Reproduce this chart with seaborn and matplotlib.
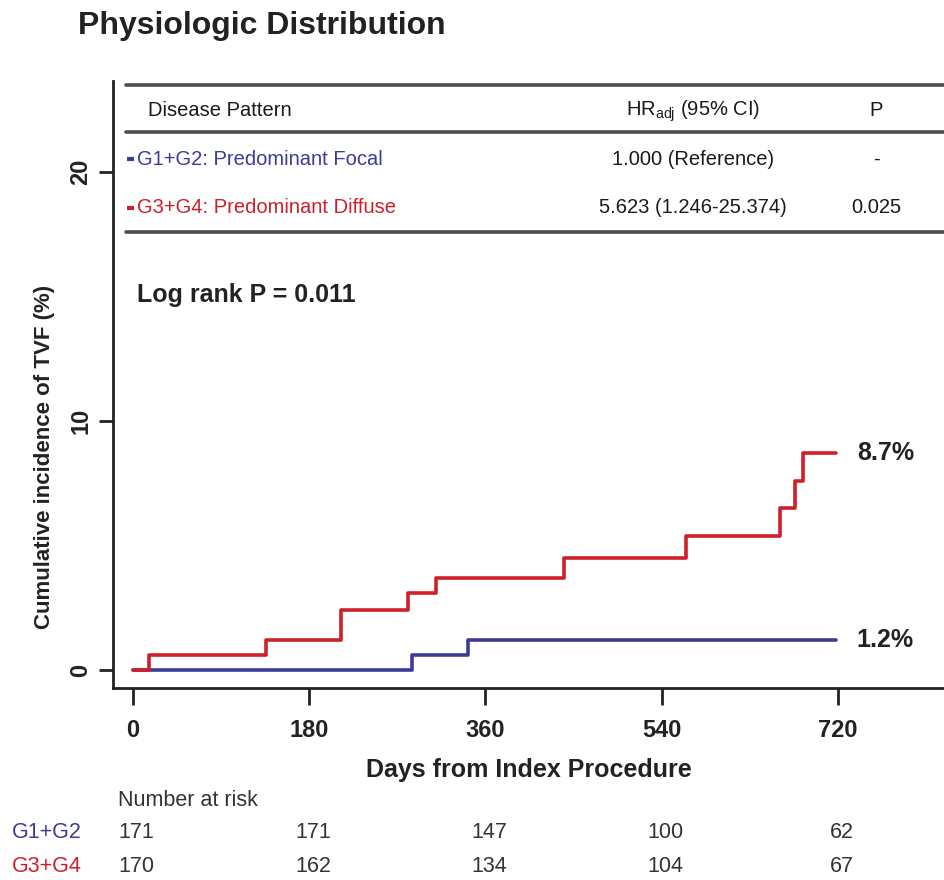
import numpy as np
import pandas as pd
import matplotlib
matplotlib.use("Agg")
import matplotlib.pyplot as plt
import matplotlib.transforms as mtransforms
import seaborn as sns

# Step curves (days, cumulative incidence %)
G12_DAYS = [0, 285, 342, 718]
G12_CUM = [0.0, 0.6, 1.2, 1.2]
G34_DAYS = [0, 17, 136, 213, 281, 310, 440, 565, 661, 676, 684, 718]
G34_CUM = [0.0, 0.6, 1.2, 2.4, 3.1, 3.7, 4.5, 5.4, 6.5, 7.6, 8.7, 8.7]

GROUPS = ["G1+G2", "G3+G4"]
GROUP_NAMES = ["G1+G2: Predominant Focal", "G3+G4: Predominant Diffuse"]
HR_TEXT = ["1.000 (Reference)", "5.623 (1.246-25.374)"]
P_TEXT = ["-", "0.025"]
END_LABELS = ["1.2%", "8.7%"]

RISK_DAYS = [0, 180, 360, 540, 720]
RISK_G12 = [171, 171, 147, 100, 62]
RISK_G34 = [170, 162, 134, 104, 67]

BLUE = "#3c3c98"
RED = "#cf1f28"
COLORS = {"G1+G2": BLUE, "G3+G4": RED}

df = pd.concat([
    pd.DataFrame({"Days": G12_DAYS, "Cum": G12_CUM, "Group": "G1+G2"}),
    pd.DataFrame({"Days": G34_DAYS, "Cum": G34_CUM, "Group": "G3+G4"}),
], ignore_index=True)

sns.set_style("white")
plt.rcParams["font.family"] = ["Liberation Sans", "DejaVu Sans"]
plt.rcParams["mathtext.fontset"] = "custom"
plt.rcParams["mathtext.rm"] = "Liberation Sans"

fig = plt.figure(figsize=(9.45, 8.8), dpi=100)
ax = fig.add_axes([0.1196, 0.2182, 0.8804, 0.6898])

for g in GROUPS:
    sns.lineplot(data=df[df["Group"] == g], x="Days", y="Cum", ax=ax,
                 color=COLORS[g], lw=2.6, drawstyle="steps-post",
                 estimator=None, legend=False, zorder=3)

ax.set_xlim(-20, 829)
ax.set_ylim(-0.72, 23.65)
ax.set_xticks(RISK_DAYS)
ax.set_yticks([0, 10, 20])
for lab in ax.get_yticklabels():
    lab.set_rotation(90)
    lab.set_va("center")
ax.tick_params(axis="both", direction="out", length=10, width=2, color="#222222",
               labelsize=17, labelcolor="#222222", bottom=True, left=True)
ax.tick_params(axis="x", length=12, pad=10)
ax.tick_params(axis="y", pad=5)
for lab in ax.get_xticklabels() + ax.get_yticklabels():
    lab.set_fontweight("bold")

sns.despine(ax=ax)
for s in ["left", "bottom"]:
    ax.spines[s].set_linewidth(2)
    ax.spines[s].set_color("#222222")

ax.set_xlabel("Days from Index Procedure", fontsize=18, fontweight="bold",
              color="#222222", labelpad=12)
ax.set_ylabel("Cumulative incidence of TVF (%)", fontsize=16, fontweight="bold",
              color="#222222")
ax.yaxis.set_label_coords(-0.07, 0.381)

# end labels
for days, cum, lab in [(G12_DAYS, G12_CUM, END_LABELS[0]), (G34_DAYS, G34_CUM, END_LABELS[1])]:
    ax.text(days[-1] + 21, cum[-1], lab, fontsize=18, fontweight="bold",
            color="#222222", va="center", ha="left")

# embedded table
for yl in [23.5, 21.6, 17.6]:
    ax.axhline(yl, xmin=0.016, xmax=1, color="#4d4d4d", lw=2.6, zorder=2)
tk = dict(fontsize=14.5, color="#1a1a1a", va="center")
ax.text(16, 22.45, "Disease Pattern", ha="left", **tk)
ax.text(572, 22.45, r"HR$_\mathregular{adj}$ (95% CI)", ha="center", **tk)
ax.text(759, 22.45, "P", ha="center", **tk)
for i, yr in enumerate([20.5, 18.55]):
    c = COLORS[GROUPS[i]]
    ax.plot([-6, 1], [yr, yr], color=c, lw=3, solid_capstyle="butt")
    ax.text(4, yr, GROUP_NAMES[i], ha="left", fontsize=14.5, color=c, va="center")
    ax.text(572, yr, HR_TEXT[i], ha="center", **tk)
    ax.text(759, yr, P_TEXT[i], ha="center", **tk)

ax.text(4, 15.05, "Log rank P = 0.011", fontsize=18, fontweight="bold",
        color="#222222", ha="left", va="center")

# title
fig.text(0.083, 0.970, "Physiologic Distribution", fontsize=23, fontweight="bold",
         color="#222222", ha="left", va="center")

# number at risk
tr = mtransforms.blended_transform_factory(ax.transData, fig.transFigure)
fig.text(0.1249, 0.0909, "Number at risk", fontsize=15.5, color="#333333",
         ha="left", va="center")
for vals, g, yf in [(RISK_G12, "G1+G2", 0.0545), (RISK_G34, "G3+G4", 0.0159)]:
    fig.text(0.0127, yf, g, fontsize=15.5, color=COLORS[g], ha="left", va="center")
    for d, v in zip(RISK_DAYS, vals):
        ax.text(d + 4, yf, str(v), transform=tr, fontsize=15.5, color="#333333",
                ha="center", va="center", clip_on=False)

fig.savefig("out.png", dpi=100)
